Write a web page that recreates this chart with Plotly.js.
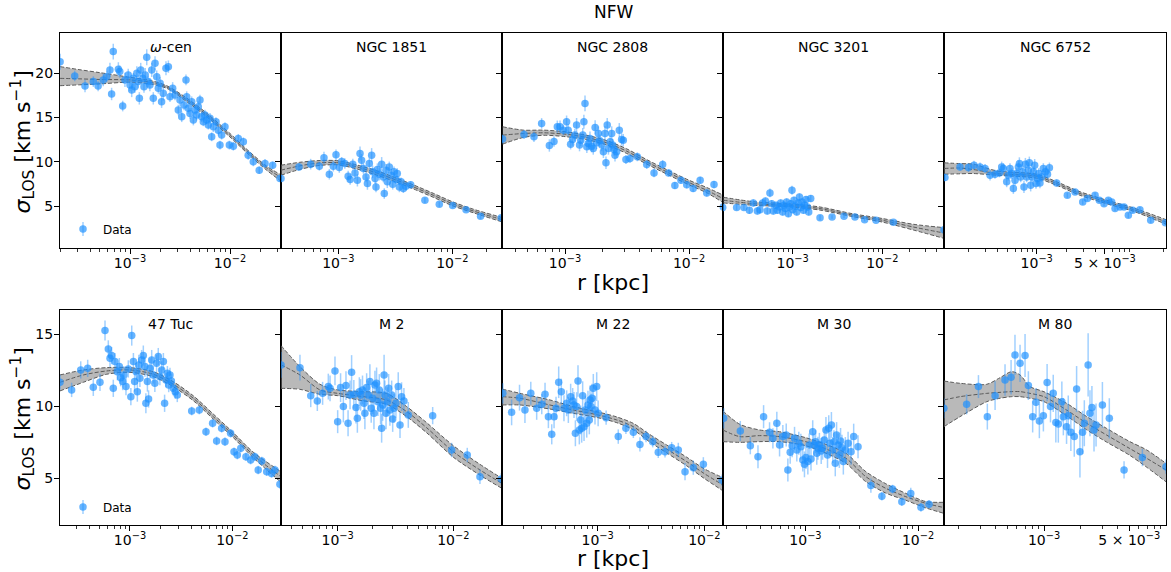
<!DOCTYPE html>
<html>
<head>
<meta charset="utf-8">
<script src="https://cdn.plot.ly/plotly-3.0.1.min.js"></script>
<style>html,body{margin:0;padding:0;background:#fff;}</style>
</head>
<body>
<div id="chart" style="width:1171px;height:572px;"></div>
<script>
// ---------- DATA (radius r in pc; plotted as kpc) ----------
// omega-cen
const wcen_r = [0.20,0.28,0.355,0.43,0.48,0.54,0.585,0.63,0.655,0.68,0.765,0.79,0.845,0.89,0.96,1.0,1.04,1.08,1.12,1.17,1.21,1.24,1.28,1.34,1.38,1.42,1.47,1.52,1.58,1.65,1.71,1.78,1.85,1.92,2.0,2.07,2.15,2.29,2.42,2.51,2.67,2.82,3.04,3.16,3.29,3.47,3.63,3.69,3.83,3.98,4.14,4.30,4.47,4.64,4.82,5.01,5.21,5.41,5.62,5.84,6.07,6.31,6.56,6.81,7.24,7.64,7.94,8.25,8.91,9.85,10.8,12.1,13.6,15.2,17.1,19.6,22.4,26.7,31.6];
const wcen_sig = [21.3,19.7,18.57,19.06,18.57,19.25,19.62,20.38,17.66,22.45,20.45,20.19,16.3,19.25,19.81,18.68,18.11,19.43,18.49,20.0,19.06,17.17,20.38,19.43,18.49,19.81,21.81,19.06,18.68,20.38,17.17,21.13,19.62,18.3,18.87,16.79,17.74,20.57,20.75,17.36,18.3,17.55,15.85,16.98,15.09,16.42,19.25,17.36,16.04,15.47,16.79,14.72,15.85,15.28,16.23,16.98,15.09,14.53,15.28,14.72,14.15,14.91,12.83,13.96,14.53,13.58,11.89,13.02,13.96,11.89,11.77,12.64,12.26,10.75,10.0,9.06,9.81,9.62,8.11];
const wcen_err = [0.9,0.6,0.7,0.6,0.6,0.7,0.6,0.8,0.7,0.9, 0.8,0.7,0.6,0.8,0.7,0.7,0.8,0.6,0.7,0.8, 0.7,0.7,0.8,0.6,0.7,0.8,0.9,0.6,0.7,0.8, 0.7,0.8,0.7,0.6,0.7,0.7,0.8,0.8,0.7,0.6, 0.7,0.6,0.6,0.7,0.6,0.6,0.6,0.6,0.6,0.6, 0.6,0.6,0.6,0.6,0.6,0.6,0.6,0.5,0.6,0.5, 0.5,0.6,0.5,0.6,0.5,0.6,0.5,0.5,0.5,0.5, 0.5,0.5,0.5,0.5,0.5,0.4,0.5,0.4,0.4];
const wcen_band_r = [0.20,0.316,0.50,1.0,1.58,2.33,3.69,5.84,10.0,15.8,23.3,31.6];
const wcen_lo  = [18.6,18.7,18.8,19.0,18.8,18.3,16.8,15.1,12.8,10.7,9.05,7.9];
const wcen_mid = [19.43,19.37,19.3,19.25,19.0,18.45,17.0,15.3,13.0,10.9,9.3,8.3];
const wcen_hi  = [20.75,20.4,20.07,19.55,19.2,18.6,17.2,15.5,13.2,11.1,9.5,8.6];

// NGC 1851
const n1851_r = [0.314,0.452,0.572,0.681,0.748,0.834,0.904,0.954,1.02,1.07, 1.14,1.22,1.27,1.34,1.40,1.47,1.55,1.60,1.66,1.75, 1.80,1.87,1.96,2.00,2.10,2.14,2.20,2.29,2.40,2.48, 2.53,2.62,2.69,2.80,2.90,3.00,3.08,3.21,3.29,3.43, 3.55,3.72,3.92,4.31,5.75,7.69,10.07,13.2,17.7,26.9];
const n1851_sig = [8.11,9.43,9.74,9.51,10.45,8.60,9.51,10.79,9.36,10.04, 9.81,8.38,8.0,9.74,8.75,7.92,10.94,10.19,9.25,8.30, 7.55,9.81,10.75,8.87,8.11,7.17,9.13,8.60,9.74,8.30, 6.42,9.06,7.74,9.43,8.49,7.47,8.87,8.0,8.68,7.17, 7.74,6.98,7.25,7.40,5.66,5.21,5.06,4.60,3.85,3.70];
const n1851_err = [0.4,0.4,0.6,0.5,0.7,0.6,0.6,0.6,0.6,0.5, 0.6,0.6,0.6,0.6,0.7,0.7,0.8,0.7,0.6,0.6, 0.7,0.6,0.8,0.7,0.6,0.6,0.7,0.7,0.8,0.6, 0.6,0.7,0.7,0.6,0.7,0.6,0.6,0.5,0.6,0.6, 0.5,0.5,0.5,0.4,0.3,0.3,0.3,0.2,0.3,0.3];
const n1851_band_r = [0.314,0.461,0.690,1.0,1.45,2.17,3.25,4.55,6.80,10.0,15.3,27.3];
const n1851_lo  = [8.49,9.15,9.6,9.65,9.2,8.5,7.7,6.95,6.0,5.05,4.25,3.22];
const n1851_mid = [9.06,9.55,9.89,9.89,9.43,8.75,7.92,7.17,6.23,5.28,4.45,3.47];
const n1851_hi  = [9.62,9.95,10.15,10.12,9.65,9.0,8.15,7.4,6.45,5.5,4.65,3.72];

// NGC 2808
const n2808_r = [0.314,0.467,0.562,0.648,0.748,0.815,0.867,0.912,0.970,1.03, 1.06,1.11,1.15,1.20,1.24,1.31,1.34,1.39,1.42,1.45, 1.50,1.54,1.59,1.64,1.69,1.75,1.80,1.86,1.91,1.98, 2.04,2.10,2.14,2.19,2.24,2.31,2.38,2.42,2.48,2.53, 2.61,2.74,2.86,2.95,3.10,3.34,3.83,4.56,5.22,6.13, 6.85,7.69,8.61,9.58,10.8,12.3,13.9,15.9,18.9];
const n2808_sig = [12.57,13.09,12.83,14.34,11.85,12.30,13.96,13.96,13.58,14.53, 13.58,12.0,12.53,13.02,14.15,11.89,12.45,13.02,14.53,16.6, 11.7,12.08,12.64,11.77,11.51,13.89,12.15,13.21,12.38,11.89, 11.13,13.21,9.89,14.15,11.51,12.26,13.21,11.89,11.40,10.75, 11.13,13.58,12.53,12.45,10.26,10.38,10.57,9.70,8.75,9.70, 8.75,7.32,7.92,7.40,6.98,7.92,6.49,7.43,4.91];
const n2808_err = [0.5,0.5,0.6,0.6,0.7,0.6,0.7,0.7,0.6,0.7, 0.7,0.6,0.7,0.7,0.8,0.7,0.7,0.8,0.8,0.9, 0.7,0.7,0.8,0.7,0.7,0.8,0.7,0.8,0.7,0.7, 0.7,0.8,0.7,0.8,0.7,0.7,0.8,0.7,0.7,0.7, 0.7,0.8,0.7,0.7,0.5,0.5,0.5,0.5,0.5,0.5, 0.4,0.4,0.4,0.4,0.4,0.4,0.4,0.4,0.4];
const n2808_band_r = [0.314,0.461,0.669,1.0,1.50,2.17,3.14,4.56,6.61,10.0,13.9,18.8];
const n2808_lo  = [12.0,12.75,13.0,12.85,12.5,11.9,10.95,9.75,8.62,7.4,6.5,5.4];
const n2808_mid = [13.02,13.2,13.28,13.13,12.75,12.15,11.21,10.0,8.87,7.66,6.79,5.85];
const n2808_hi  = [13.96,13.58,13.58,13.4,13.0,12.4,11.47,10.25,9.12,7.92,7.1,6.25];

// NGC 3201
const n3201_r = [0.166,0.237,0.286,0.329,0.364,0.404,0.432,0.463,0.496,0.521, 0.558,0.583,0.608,0.652,0.675,0.710,0.735,0.773,0.800,0.828, 0.857,0.895,0.918,0.950,0.983,1.0,1.035,1.07,1.11,1.15, 1.19,1.23,1.27,1.32,1.36,1.41,1.46,1.51,1.59,2.02, 2.75,3.74,4.95,6.35,8.5,13.3,48.7];
const n3201_sig = [4.83,4.83,4.83,4.53,5.36,4.45,4.60,5.36,5.58,4.45, 6.49,5.28,4.45,5.09,4.53,4.91,5.36,4.34,5.09,4.72, 5.47,4.15,4.91,5.28,6.79,4.60,5.66,4.98,4.34,5.36, 6.04,4.83,5.47,4.53,5.09,5.74,4.91,4.34,5.85,3.70, 3.77,3.85,3.77,3.47,3.40,3.17,2.34];
const n3201_err = [0.3,0.3,0.3,0.4,0.4,0.4,0.4,0.4,0.4,0.4, 0.5,0.4,0.4,0.4,0.4,0.4,0.4,0.4,0.4,0.4, 0.4,0.4,0.4,0.4,0.5,0.4,0.4,0.4,0.4,0.4, 0.4,0.4,0.4,0.4,0.4,0.4,0.4,0.4,0.4,0.3, 0.2,0.2,0.2,0.2,0.2,0.2,0.2];
const n3201_band_r = [0.169,0.364,1.0,2.02,4.75,10.0,22.2,48.7];
const n3201_lo  = [5.36,5.1,4.9,4.55,3.8,3.2,2.3,1.36];
const n3201_mid = [5.66,5.28,5.06,4.72,3.96,3.40,2.64,1.96];
const n3201_hi  = [6.0,5.5,5.22,4.9,4.12,3.6,2.95,2.57];

// NGC 6752
const n6752_r = [0.115,0.164,0.200,0.228,0.263,0.296,0.333,0.374,0.415,0.438, 0.456,0.493,0.513,0.533,0.555,0.577,0.600,0.624,0.649,0.665, 0.686,0.719,0.741,0.766,0.790,0.822,0.841,0.868,0.896,0.925, 0.954,0.984,1.02,1.05,1.08,1.12,1.17,1.23,1.29,1.35, 1.60,2.06,2.47,2.96,3.30,3.96,4.38,4.89,5.42,5.86, 6.34,7.13,7.84,8.68,9.61,11.4,14.7,20.8];
const n6752_sig = [8.23,9.43,9.36,9.62,9.43,9.25,8.49,8.60,8.75,9.43, 9.25,7.74,8.49,9.25,8.68,6.98,7.92,8.68,9.43,9.81, 8.30,8.87,7.17,9.74,8.30,9.06,9.89,7.36,8.30,8.87, 9.62,7.55,8.11,8.68,7.62,8.30,9.25,8.87,8.60,9.32, 7.62,6.23,6.60,5.47,5.85,6.23,5.66,5.28,5.66,5.47, 4.72,4.91,4.91,3.96,4.53,4.60,3.40,3.13];
const n6752_err = [0.4,0.4,0.5,0.5,0.5,0.5,0.6,0.5,0.5,0.6, 0.6,0.6,0.6,0.6,0.6,0.6,0.6,0.6,0.7,0.7, 0.6,0.6,0.7,0.7,0.6,0.6,0.7,0.7,0.6,0.6, 0.7,0.6,0.6,0.6,0.6,0.6,0.6,0.6,0.6,0.6, 0.4,0.3,0.3,0.3,0.3,0.3,0.3,0.3,0.3,0.3, 0.3,0.3,0.3,0.3,0.3,0.3,0.3,0.2];
const n6752_band_r = [0.1125,0.164,0.225,0.389,1.0,1.60,2.78,5.21,9.77,21.1];
const n6752_lo  = [8.60,8.65,8.68,8.49,8.15,7.35,6.22,5.27,4.42,2.95];
const n6752_mid = [9.25,9.3,9.13,8.68,8.38,7.55,6.42,5.47,4.60,3.21];
const n6752_hi  = [9.89,9.8,9.74,8.98,8.6,7.75,6.62,5.67,4.8,3.47];

// 47 Tuc
const tuc47_r = [0.207,0.269,0.330,0.386,0.438,0.509,0.570,0.614,0.638,0.662, 0.687,0.713,0.752,0.787,0.811,0.848,0.873,0.914,0.963,1.02, 1.04,1.08,1.11,1.15,1.18,1.22,1.25,1.30,1.35,1.40, 1.43,1.48,1.52,1.57,1.63,1.69,1.75,1.82,1.89,1.96, 2.04,2.12,2.18,2.25,2.32,2.39,2.46,2.54,2.65,2.77, 2.90,4.01,4.76,5.53,6.42,7.03,7.87,8.48,9.63,10.4, 11.2,12.1,13.6,15.1,16.6,17.9,19.4,21.7,24.2,26.1, 29.2];
const tuc47_sig = [11.66,11.13,12.52,12.63,11.31,11.66,15.26,13.98,13.33,13.52, 11.24,13.10,12.40,12.75,11.98,11.71,12.17,11.36,12.59,10.66, 14.91,13.10,11.71,12.40,11.01,12.87,11.94,13.21,13.52,12.75, 10.20,11.71,10.50,12.63,13.21,12.17,11.59,12.98,13.45,12.05, 12.52,13.10,10.20,11.82,12.29,11.47,12.17,11.75,11.24,11.01, 10.78,9.66,9.73,8.22,8.81,7.58,8.46,7.53,8.11,6.83, 6.60,7.07,6.48,6.25,6.48,5.56,6.18,5.44,5.32,5.56, 4.56];
const tuc47_err = [0.5,0.5,0.6,0.6,0.6,0.6,0.7,0.6,0.6,0.6, 0.6,0.6,0.6,0.6,0.6,0.6,0.6,0.6,0.6,0.6, 0.7,0.6,0.7,0.6,0.7,0.7,0.6,0.7,0.7,0.7, 0.7,0.7,0.6,0.7,0.7,0.6,0.6,0.6,0.6,0.6, 0.6,0.6,0.6,0.5,0.5,0.5,0.5,0.5,0.5,0.5, 0.5,0.3,0.3,0.3,0.3,0.3,0.3,0.3,0.3,0.3, 0.3,0.3,0.3,0.3,0.3,0.3,0.3,0.3,0.3,0.3, 0.3];
const tuc47_band_r = [0.207,0.350,0.592,1.0,1.69,2.65,4.16,6.52,10.2,16.0,29.9];
const tuc47_lo  = [11.06,11.66,12.22,12.35,12.05,11.35,10.38,9.1,7.82,6.42,4.70];
const tuc47_mid = [11.66,12.17,12.45,12.52,12.22,11.52,10.55,9.27,7.99,6.60,5.09];
const tuc47_hi  = [12.17,12.52,12.68,12.68,12.4,11.7,10.72,9.45,8.16,6.8,5.44];

// M 2
const m2_r = [0.324,0.472,0.585,0.667,0.741,0.830,0.859,0.948,1.0,1.06, 1.12,1.18,1.23,1.28,1.32,1.38,1.44,1.48,1.54,1.58, 1.64,1.69,1.72,1.78,1.84,1.90,1.95,2.01,2.06,2.10, 2.17,2.23,2.29,2.35,2.40,2.45,2.52,2.56,2.62,2.69, 2.76,2.83,2.93,2.99,3.07,3.19,3.34,3.46,3.57,3.74, 4.08,6.63,9.68,13.2,17.0,26.0];
const m2_sig = [12.87,12.68,10.73,10.36,10.89,11.36,11.24,12.45,8.92,11.29, 9.97,11.43,8.81,10.78,12.35,10.82,9.90,9.15,11.01,10.78, 11.13,10.20,9.50,11.29,10.78,11.71,9.85,10.55,9.50,11.47, 11.59,10.31,11.13,9.85,8.46,10.08,12.17,10.78,9.50,10.31, 11.24,9.73,10.78,9.11,9.85,10.20,11.36,8.69,10.66,10.36, 9.39,9.34,6.95,6.60,5.09,4.93];
const m2_err = [0.9,0.9,0.8,0.7,0.8,0.9,0.9,1.0,0.8,1.0, 1.1,1.0,0.9,1.0,1.2,1.0,1.1,1.0,1.0,1.1, 1.0,1.1,1.1,1.0,1.0,1.2,1.0,1.1,1.1,1.0, 1.1,1.0,1.1,1.1,1.0,1.1,1.4,1.0,1.1,1.0, 1.0,1.1,1.0,0.9,1.0,1.0,1.0,0.9,1.0,0.9, 0.9,0.6,0.5,0.5,0.5,0.4];
const m2_band_r = [0.324,0.472,0.703,1.0,1.67,2.65,3.95,5.88,10.0,17.0,26.3];
const m2_lo  = [11.24,11.17,10.82,10.73,10.36,10.13,9.27,8.15,6.45,5.2,4.28];
const m2_mid = [12.87,12.17,11.13,10.89,10.66,10.43,9.62,8.50,6.83,5.56,4.63];
const m2_hi  = [14.21,12.75,11.52,11.13,11.01,10.89,9.97,8.85,7.25,5.95,4.98];

// M 22
const m22_r = [0.129,0.156,0.185,0.208,0.236,0.268,0.299,0.321,0.345,0.371, 0.390,0.407,0.431,0.456,0.483,0.512,0.531,0.558,0.583,0.600, 0.618,0.635,0.654,0.673,0.693,0.708,0.723,0.745,0.766,0.789, 0.811,0.835,0.847,0.866,0.885,0.910,0.944,0.979,1.01,1.20, 1.56,1.84,2.16,2.49,2.84,3.28,3.70,4.28,4.94,5.70, 6.59,7.88,9.79,14.7];
const m22_sig = [10.89,9.57,10.59,9.73,10.89,9.85,10.13,10.82,9.27,8.04, 9.27,9.85,11.66,11.01,9.85,10.20,9.73,10.66,10.36,10.08, 8.11,9.97,11.75,8.34,9.04,8.46,10.73,8.57,9.73,8.81, 10.08,9.04,10.43,9.97,10.55,11.24,9.73,11.36,9.50,9.20, 7.88,8.46,8.18,7.34,7.88,7.53,6.79,6.83,7.11,6.95, 5.44,5.72,5.95,4.84];
const m22_err = [0.7,0.9,0.9,0.9,0.8,0.8,0.7,0.8,0.8,0.7, 0.8,0.8,1.1,0.9,0.9,0.9,0.9,0.9,0.9,0.9, 0.9,1.0,1.1,1.0,1.0,1.0,1.0,1.0,1.0,1.0, 1.0,1.0,1.0,0.9,1.0,1.0,1.0,1.0,0.9,0.5, 0.5,0.4,0.4,0.5,0.4,0.4,0.4,0.4,0.4,0.5, 0.6,0.5,0.5,0.4];
const m22_band_r = [0.127,0.187,0.357,0.592,1.0,1.51,2.16,3.09,4.43,6.83,9.93,15.0];
const m22_lo  = [10.08,10.08,9.80,9.50,9.2,8.85,8.35,7.5,6.75,5.85,4.98,4.10];
const m22_mid = [10.66,10.55,10.08,9.73,9.39,9.04,8.57,7.76,7.02,6.14,5.32,4.51];
const m22_hi  = [11.19,10.89,10.43,9.97,9.6,9.25,8.8,8.02,7.3,6.45,5.65,5.02];

// M 30
const m30_r = [0.188,0.264,0.324,0.379,0.425,0.480,0.514,0.557,0.589,0.630, 0.675,0.698,0.732,0.762,0.800,0.838,0.873,0.910,0.947,0.980, 1.01,1.05,1.08,1.12,1.16,1.19,1.23,1.26,1.29,1.33, 1.38,1.42,1.47,1.52,1.57,1.61,1.65,1.70,1.75,1.79, 1.84,1.89,1.95,2.00,2.05,2.11,2.17,2.26,2.39,2.54, 2.68,2.93,3.81,4.77,5.93,7.17,8.61,10.6,12.5];
const m30_sig = [9.15,8.27,7.25,6.48,9.27,8.18,7.76,8.81,7.30,7.88, 7.99,5.56,6.79,7.25,7.76,6.95,7.41,7.18,6.25,5.95, 6.42,6.14,7.30,6.32,8.22,7.30,7.53,6.72,7.07,7.34, 6.88,7.07,7.65,8.34,6.60,8.46,7.41,8.69,6.95,7.53, 6.02,7.99,7.30,6.60,7.58,7.11,6.14,6.95,7.41,6.83, 7.88,7.18,4.47,3.73,4.23,3.35,3.93,2.96,3.17];
const m30_err = [0.7,0.7,0.6,0.8,0.8,0.7,0.7,0.8,0.8,0.8, 0.8,0.8,0.8,0.8,0.8,0.8,0.8,0.9,0.8,0.9, 0.8,0.9,0.8,0.8,0.8,0.8,0.8,0.8,0.8,0.8, 0.9,0.8,0.8,0.9,0.9,0.9,0.9,0.9,0.9,0.8, 0.9,0.9,0.8,0.9,0.9,0.9,0.9,0.9,0.8,0.9, 0.9,0.8,0.5,0.3,0.3,0.3,0.4,0.3,0.3];
const m30_band_r = [0.185,0.261,0.392,0.589,1.0,1.52,2.29,3.44,5.17,7.78,11.7,17.0];
const m30_lo  = [7.53,7.48,7.53,7.53,7.25,6.72,6.02,4.74,3.95,3.45,2.92,2.54];
const m30_mid = [8.34,7.88,7.95,7.88,7.53,7.02,6.37,5.09,4.28,3.70,3.24,2.94];
const m30_hi  = [9.66,8.74,8.34,8.22,7.81,7.34,6.72,5.44,4.6,3.93,3.36,3.31];

// M 80
const m80_r = [0.151,0.232,0.290,0.343,0.397,0.479,0.537,0.578,0.636,0.699, 0.744,0.807,0.860,0.916,0.988,1.06,1.13,1.19,1.25,1.31, 1.40,1.44,1.53,1.58,1.66,1.77,1.85,1.97,2.07,2.14, 2.30,2.38,2.47,2.57,2.67,3.01,3.43,4.53,6.40,10.0];
const m80_sig = [9.85,10.13,11.36,9.27,10.73,11.82,12.01,13.56,12.98,13.52, 11.43,9.27,10.27,8.97,9.34,11.64,9.97,10.89,8.87,8.76, 10.31,9.27,8.57,9.34,8.18,7.88,11.19,6.83,8.18,8.81, 12.87,9.50,9.90,8.34,8.69,10.08,9.15,5.56,6.42,5.79];
const m80_err = [0.7,0.7,0.8,0.9,1.0,1.1,1.2,1.4,1.3,1.5, 1.0,1.1,1.0,1.2,1.1,1.3,1.1,1.3,1.4,1.3, 1.4,1.3,1.2,1.4,1.3,1.4,1.6,1.8,1.5,1.6, 2.2,1.6,1.5,1.5,1.5,1.6,1.4,0.6,0.6,0.5];
const m80_band_r = [0.151,0.205,0.339,0.436,0.543,0.636,0.768,1.0,1.53,2.24,3.26,5.0,6.95,10.0];
const m80_lo  = [8.57,9.27,10.31,10.55,10.66,10.66,10.55,10.31,9.33,8.35,7.5,6.6,5.75,4.74];
const m80_mid = [10.43,10.66,10.89,10.96,11.01,11.01,10.89,10.66,9.73,8.81,7.99,7.07,6.37,5.56];
const m80_hi  = [11.75,11.59,11.52,11.98,12.40,12.17,11.36,11.0,10.2,9.27,8.45,7.55,6.95,6.02];

// ---------- labels / ticks ----------
const titles = ['<i>ω</i>-cen','NGC 1851','NGC 2808','NGC 3201','NGC 6752','47 Tuc','M 2','M 22','M 30','M 80'];
const tickA_vals = [1e-3, 1e-2];
const tickA_text = ['10<sup>−3</sup>','10<sup>−2</sup>'];
const tickB_vals = [1e-3, 5e-3];
const tickB_text = ['10<sup>−3</sup>','5 × 10<sup>−3</sup>'];
const yticks_row1 = [5,10,15,20];
const yticks_row2 = [5,10,15];

// ---------- panel setup (layout only) ----------
const panels = [
  {r:wcen_r,s:wcen_sig,e:wcen_err,br:wcen_band_r,lo:wcen_lo,mid:wcen_mid,hi:wcen_hi,xr:[-3.70,-1.49],tk:'A'},
  {r:n1851_r,s:n1851_sig,e:n1851_err,br:n1851_band_r,lo:n1851_lo,mid:n1851_mid,hi:n1851_hi,xr:[-3.503,-1.564],tk:'A'},
  {r:n2808_r,s:n2808_sig,e:n2808_err,br:n2808_band_r,lo:n2808_lo,mid:n2808_mid,hi:n2808_hi,xr:[-3.508,-1.726],tk:'A'},
  {r:n3201_r,s:n3201_sig,e:n3201_err,br:n3201_band_r,lo:n3201_lo,mid:n3201_mid,hi:n3201_hi,xr:[-3.777,-1.312],tk:'A'},
  {r:n6752_r,s:n6752_sig,e:n6752_err,br:n6752_band_r,lo:n6752_lo,mid:n6752_mid,hi:n6752_hi,xr:[-3.949,-1.676],tk:'B'},
  {r:tuc47_r,s:tuc47_sig,e:tuc47_err,br:tuc47_band_r,lo:tuc47_lo,mid:tuc47_mid,hi:tuc47_hi,xr:[-3.684,-1.524],tk:'A'},
  {r:m2_r,s:m2_sig,e:m2_err,br:m2_band_r,lo:m2_lo,mid:m2_mid,hi:m2_hi,xr:[-3.490,-1.579],tk:'A'},
  {r:m22_r,s:m22_sig,e:m22_err,br:m22_band_r,lo:m22_lo,mid:m22_mid,hi:m22_hi,xr:[-3.897,-1.825],tk:'A'},
  {r:m30_r,s:m30_sig,e:m30_err,br:m30_band_r,lo:m30_lo,mid:m30_mid,hi:m30_hi,xr:[-3.732,-1.770],tk:'A'},
  {r:m80_r,s:m80_sig,e:m80_err,br:m80_band_r,lo:m80_lo,mid:m80_mid,hi:m80_hi,xr:[-3.820,-2.0],tk:'B'}
];

const W = 1171, H = 572;
const colEdges = [60,281,502,723,944,1166];
const rowEdges = [[33,248],[310,525]];
const yRanges = [[0.27,24.55],[1.73,16.69]];

const minorVals = [];
for (let k = -5; k <= -1; k++) for (let m = 2; m <= 9; m++) minorVals.push(m * Math.pow(10, k));

const pc2kpc = v => v / 1000;
const traces = [];
const legendLeft = 63;
const layout = {
  width: W, height: H,
  margin: {l:0, r:0, t:0, b:0},
  paper_bgcolor: 'white', plot_bgcolor: 'white',
  font: {family: 'DejaVu Sans', size: 14, color: 'black'},
  showlegend: true,
  legend: {x: legendLeft/W, y: 1-229/H, xanchor:'left', yanchor:'middle', bgcolor:'rgba(0,0,0,0)', font:{size:12}},
  legend2: {x: legendLeft/W, y: 1-507/H, xanchor:'left', yanchor:'middle', bgcolor:'rgba(0,0,0,0)', font:{size:12}},
  annotations: [],
  shapes: []
};

const bandLine = {color:'#5a5a5a', width:1, dash:'4px,2px', shape:'spline', smoothing:0.8};
const ptColor = 'rgba(30,144,255,0.68)';
const errColor = 'rgba(30,144,255,0.42)';

panels.forEach((p, i) => {
  const row = i < 5 ? 0 : 1, col = i % 5;
  const sfx = i === 0 ? '' : String(i+1);
  const xa = 'x' + sfx, ya = 'y' + sfx;
  const bx = p.br.map(pc2kpc);
  traces.push({x:bx, y:p.lo, xaxis:xa, yaxis:ya, mode:'lines', line:bandLine, showlegend:false, hoverinfo:'skip'});
  traces.push({x:bx, y:p.hi, xaxis:xa, yaxis:ya, mode:'lines', line:bandLine, fill:'tonexty', fillcolor:'rgba(128,128,128,0.55)', showlegend:false, hoverinfo:'skip'});
  traces.push({x:bx, y:p.mid, xaxis:xa, yaxis:ya, mode:'lines', line:bandLine, showlegend:false, hoverinfo:'skip'});
  traces.push({
    x:p.r.map(pc2kpc), y:p.s, xaxis:xa, yaxis:ya, mode:'markers', name:'Data',
    marker:{size:7.5, color:ptColor},
    error_y:{type:'data', array:p.e, visible:true, color:errColor, thickness:1.5, width:0},
    showlegend: (i === 0 || i === 5), legend: (i === 5 ? 'legend2' : 'legend')
  });
  const d0 = colEdges[col]/W, d1 = colEdges[col+1]/W;
  const yd = [1 - rowEdges[row][1]/H, 1 - rowEdges[row][0]/H];
  layout['xaxis' + sfx] = {
    type:'log', range:p.xr, domain:[d0,d1], anchor:ya,
    tickmode:'array', tickvals: p.tk==='A'?tickA_vals:tickB_vals, ticktext: p.tk==='A'?tickA_text:tickB_text,
    ticks:'outside', ticklen:5, tickwidth:1, tickcolor:'black', ticklabelstandoff:-3,
    showline:true, mirror:true, linecolor:'black', linewidth:1,
    showgrid:false, zeroline:false, tickfont:{size:14},
    minor:{tickmode:'array', tickvals:minorVals, ticks:'outside', ticklen:2.5, tickwidth:0.8, tickcolor:'black', showgrid:false}
  };
  layout['yaxis' + sfx] = {
    range:yRanges[row], domain:yd, anchor:xa,
    tickmode:'array', tickvals: row===0?yticks_row1:yticks_row2,
    ticks:'outside', ticklen:5, tickwidth:1, tickcolor:'black', ticklabelstandoff:-2,
    showticklabels: col===0,
    showline:true, mirror:true, linecolor:'black', linewidth:1,
    showgrid:false, zeroline:false, tickfont:{size:14}
  };
  layout.annotations.push({
    text:titles[i], xref:'paper', yref:'paper', x:(d0+d1)/2, y: 1 - (rowEdges[row][0]+14)/H,
    xanchor:'center', yanchor:'middle', showarrow:false, font:{size:14}
  });
});

// legend error-bar glyphs (decoration next to legend markers)
[229, 507].forEach(yc => {
  layout.shapes.push({type:'line', xref:'paper', yref:'paper', x0:(legendLeft+20)/W, x1:(legendLeft+20)/W, y0:1-(yc-7)/H, y1:1-(yc+7)/H, line:{color:errColor, width:1.5}});
});

// figure-level labels
layout.annotations.push({text:'NFW', xref:'paper', yref:'paper', x:613/W, y:1-12/H, xanchor:'center', yanchor:'middle', showarrow:false, font:{size:17}});
[0,1].forEach(row => {
  const yc = 1 - ((rowEdges[row][0] + rowEdges[row][1]) / 2 + 2) / H;
  layout.annotations.push({text:'<i>σ</i><sub>LOS</sub> [km s<sup>−1</sup>]', xref:'paper', yref:'paper', x:22/W, y:yc, xanchor:'center', yanchor:'middle', textangle:-90, showarrow:false, font:{size:22}});
  layout.annotations.push({text:'r [kpc]', xref:'paper', yref:'paper', x:613/W, y:1 - (row===0?282:558)/H, xanchor:'center', yanchor:'middle', showarrow:false, font:{size:22}});
});

Plotly.newPlot('chart', traces, layout, {staticPlot:true, displayModeBar:false});
</script>
</body>
</html>
